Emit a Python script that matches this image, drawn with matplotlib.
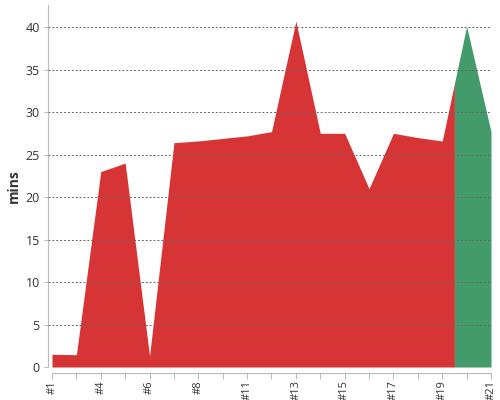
import numpy as np
import matplotlib
matplotlib.use('Agg')
import matplotlib.pyplot as plt

plt.rcParams['font.family'] = ['Open Sans', 'DejaVu Sans']

# race labels and time in minutes
labels = ['#1', '#2', '#4', '#5', '#6', '#7', '#8', '#10', '#11', '#12',
          '#13', '#14', '#15', '#16', '#17', '#18', '#19', '#20', '#21']
mins = [1.5, 1.45, 23.0, 24.0, 1.3, 26.4, 26.6, 26.9, 27.2, 27.7,
        40.7, 27.5, 27.5, 21.0, 27.5, 27.0, 26.6, 40.1, 27.7]
# points from here on are drawn green
highlight_from = 17

red = '#d73535'
green = '#439a6b'

x = np.arange(len(mins), dtype=float)
y = np.array(mins)
split = highlight_from - 0.5
y_split = np.interp(split, x, y)

fig = plt.figure(figsize=(5, 4), dpi=100)
ax = fig.add_axes([0.096, 0.0825, 0.886, 0.905])

xr = np.append(x[x < split], split)
yr = np.append(y[x < split], y_split)
xg = np.insert(x[x > split], 0, split)
yg = np.insert(y[x > split], 0, y_split)
ax.fill_between(xr, 0, yr, color=red, lw=0, zorder=1)
ax.fill_between(xg, 0, yg, color=green, lw=0, zorder=1)

ax.set_xlim(-0.164, len(mins) - 1)
ax.set_ylim(0, 42.6)
ax.set_yticks(range(0, 41, 5))
ax.set_xticks(x)
ax.set_xticklabels([l if i % 2 == 0 else '' for i, l in enumerate(labels)])
ax.tick_params(axis='x', labelrotation=90, labelsize=8, labelcolor='#333333',
               length=4, width=0.8, color='#bbbbbb', pad=1.5)
ax.tick_params(axis='y', labelsize=9, labelcolor='#333333', length=3,
               width=0.8, color='#bbbbbb', pad=3)

ax.grid(axis='y', color='#666666', linestyle=(0, (2, 2)), linewidth=0.7, zorder=3)
ax.set_axisbelow(False)
ax.yaxis.get_gridlines()[0].set_visible(False)

for s in ['top', 'right']:
    ax.spines[s].set_visible(False)
ax.spines['left'].set_color('#bbbbbb')
ax.spines['bottom'].set_color('#bbbbbb')
ax.spines['bottom'].set_position(('outward', 4))
ax.spines['bottom'].set_bounds(0, len(mins) - 1)

ax.set_ylabel('mins', fontsize=10, fontweight='bold', color='#333333', labelpad=3)

fig.savefig('out.png', dpi=100)
